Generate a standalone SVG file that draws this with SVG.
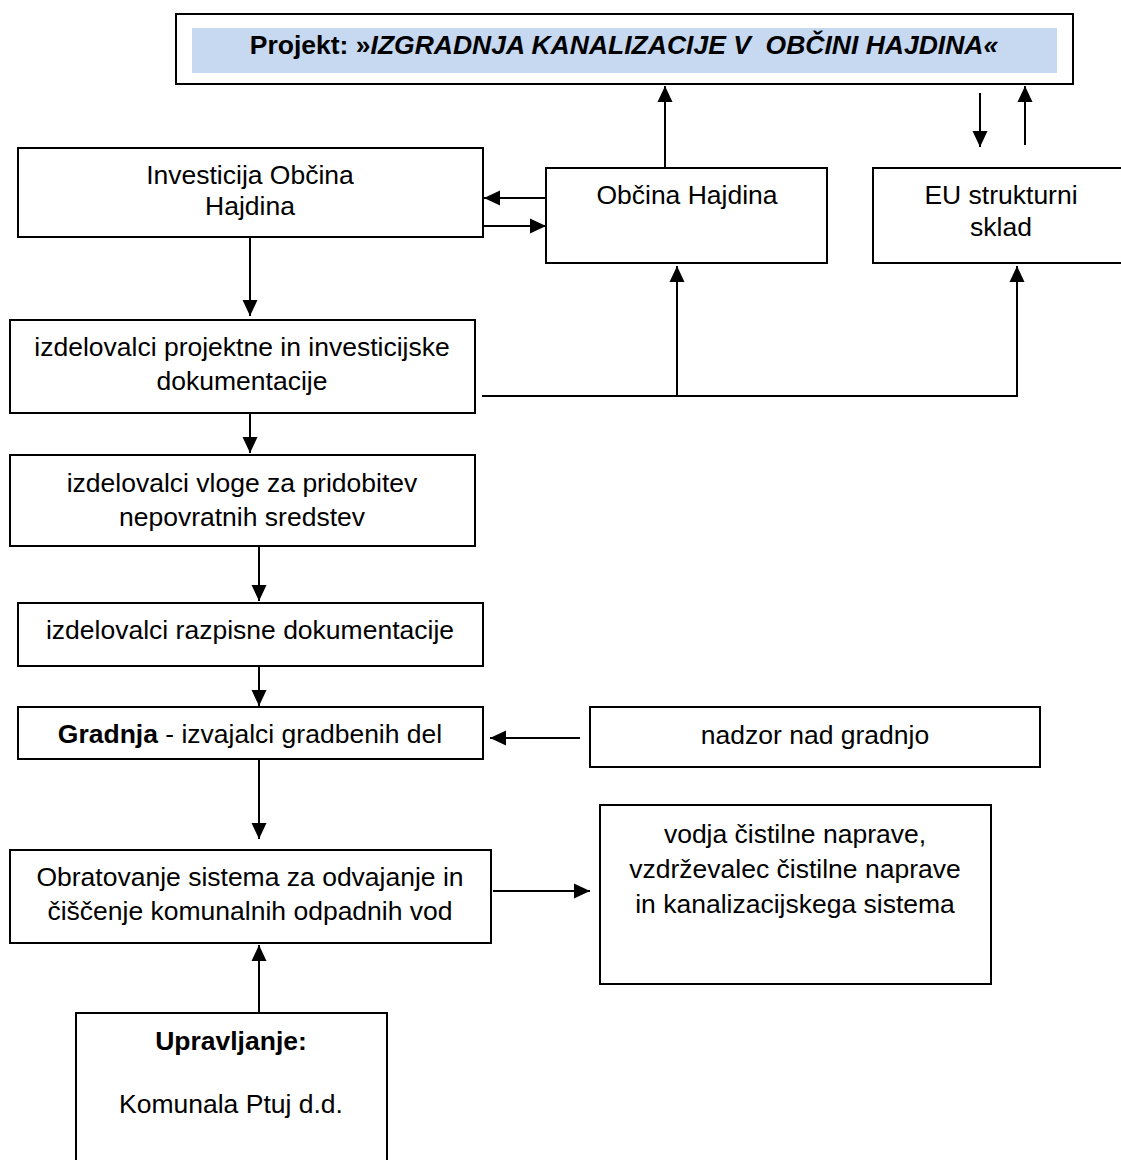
<svg xmlns="http://www.w3.org/2000/svg" width="1121" height="1160" viewBox="0 0 1121 1160">
<defs>
<style>
.box{fill:#fff;stroke:#000;stroke-width:2}
.t{font-family:"Liberation Sans",Arial,sans-serif;font-size:26.5px;fill:#000;text-anchor:middle}
.ln{fill:none;stroke:#000;stroke-width:2}
</style>
<marker id="ah" markerUnits="userSpaceOnUse" markerWidth="16" markerHeight="16" viewBox="0 0 16 16" refX="16" refY="8" orient="auto">
<path d="M0,0.5 L16,8 L0,15.5 Z" fill="#000"/>
</marker>
</defs>
<rect width="1121" height="1160" fill="#fff"/>
<g id="projekt">
<rect class="box" x="176" y="14" width="897" height="70"/>
<rect x="192" y="28" width="865" height="45" fill="#c6d9f0"/>
<text class="t" x="624" y="54" style="font-size:26.5px;font-weight:bold" xml:space="preserve">Projekt: »<tspan font-style="italic">IZGRADNJA KANALIZACIJE V  OBČINI HAJDINA«</tspan></text>
</g>
<g id="investicija">
<rect class="box" x="18" y="148" width="465" height="89"/>
<text class="t" x="250" y="184">Investicija Občina</text>
<text class="t" x="250" y="215">Hajdina</text>
</g>
<g id="obcina">
<rect class="box" x="546" y="168" width="281" height="95"/>
<text class="t" x="687" y="204">Občina Hajdina</text>
</g>
<g id="eu">
<rect class="box" x="873" y="168" width="252" height="95"/>
<text class="t" x="1001" y="204">EU strukturni</text>
<text class="t" x="1001" y="236">sklad</text>
</g>
<g id="projektna">
<rect class="box" x="10" y="320" width="465" height="93"/>
<text class="t" x="242" y="356">izdelovalci projektne in investicijske</text>
<text class="t" x="242" y="390">dokumentacije</text>
</g>
<g id="vloga">
<rect class="box" x="10" y="455" width="465" height="91"/>
<text class="t" x="242" y="492">izdelovalci vloge za pridobitev</text>
<text class="t" x="242" y="526">nepovratnih sredstev</text>
</g>
<g id="razpisna">
<rect class="box" x="18" y="603" width="465" height="63"/>
<text class="t" x="250" y="639">izdelovalci razpisne dokumentacije</text>
</g>
<g id="gradnja">
<rect class="box" x="18" y="707" width="465" height="52"/>
<text class="t" x="250" y="743"><tspan font-weight="bold">Gradnja</tspan> - izvajalci gradbenih del</text>
</g>
<g id="nadzor">
<rect class="box" x="590" y="707" width="450" height="60"/>
<text class="t" x="815" y="744">nadzor nad gradnjo</text>
</g>
<g id="obratovanje">
<rect class="box" x="10" y="850" width="481" height="93"/>
<text class="t" x="250" y="886">Obratovanje sistema za odvajanje in</text>
<text class="t" x="250" y="920">čiščenje komunalnih odpadnih vod</text>
</g>
<g id="vodja">
<rect class="box" x="600" y="805" width="391" height="179"/>
<text class="t" x="795" y="843">vodja čistilne naprave,</text>
<text class="t" x="795" y="878">vzdrževalec čistilne naprave</text>
<text class="t" x="795" y="913">in kanalizacijskega sistema</text>
</g>
<g id="upravljanje">
<rect class="box" x="76" y="1013" width="311" height="160"/>
<text class="t" x="231" y="1050" font-weight="bold">Upravljanje:</text>
<text class="t" x="231" y="1113">Komunala Ptuj d.d.</text>
</g>
<g id="connectors">
<line class="ln" x1="665" y1="168" x2="665" y2="86" marker-end="url(#ah)"/>
<line class="ln" x1="546" y1="198" x2="484" y2="198" marker-end="url(#ah)"/>
<line class="ln" x1="483" y1="226" x2="546" y2="226" marker-end="url(#ah)"/>
<line class="ln" x1="980" y1="93" x2="980" y2="147" marker-end="url(#ah)"/>
<line class="ln" x1="1025" y1="145" x2="1025" y2="86" marker-end="url(#ah)"/>
<line class="ln" x1="250" y1="237" x2="250" y2="316" marker-end="url(#ah)"/>
<polyline class="ln" points="482,396 1017,396 1017,266" marker-end="url(#ah)"/>
<line class="ln" x1="677" y1="396" x2="677" y2="266" marker-end="url(#ah)"/>
<line class="ln" x1="250" y1="413" x2="250" y2="453" marker-end="url(#ah)"/>
<line class="ln" x1="259" y1="546" x2="259" y2="601" marker-end="url(#ah)"/>
<line class="ln" x1="259" y1="666" x2="259" y2="706" marker-end="url(#ah)"/>
<line class="ln" x1="580" y1="738" x2="490" y2="738" marker-end="url(#ah)"/>
<line class="ln" x1="259" y1="759" x2="259" y2="839" marker-end="url(#ah)"/>
<line class="ln" x1="493" y1="891" x2="590" y2="891" marker-end="url(#ah)"/>
<line class="ln" x1="259" y1="1013" x2="259" y2="945" marker-end="url(#ah)"/>
</g>
</svg>
